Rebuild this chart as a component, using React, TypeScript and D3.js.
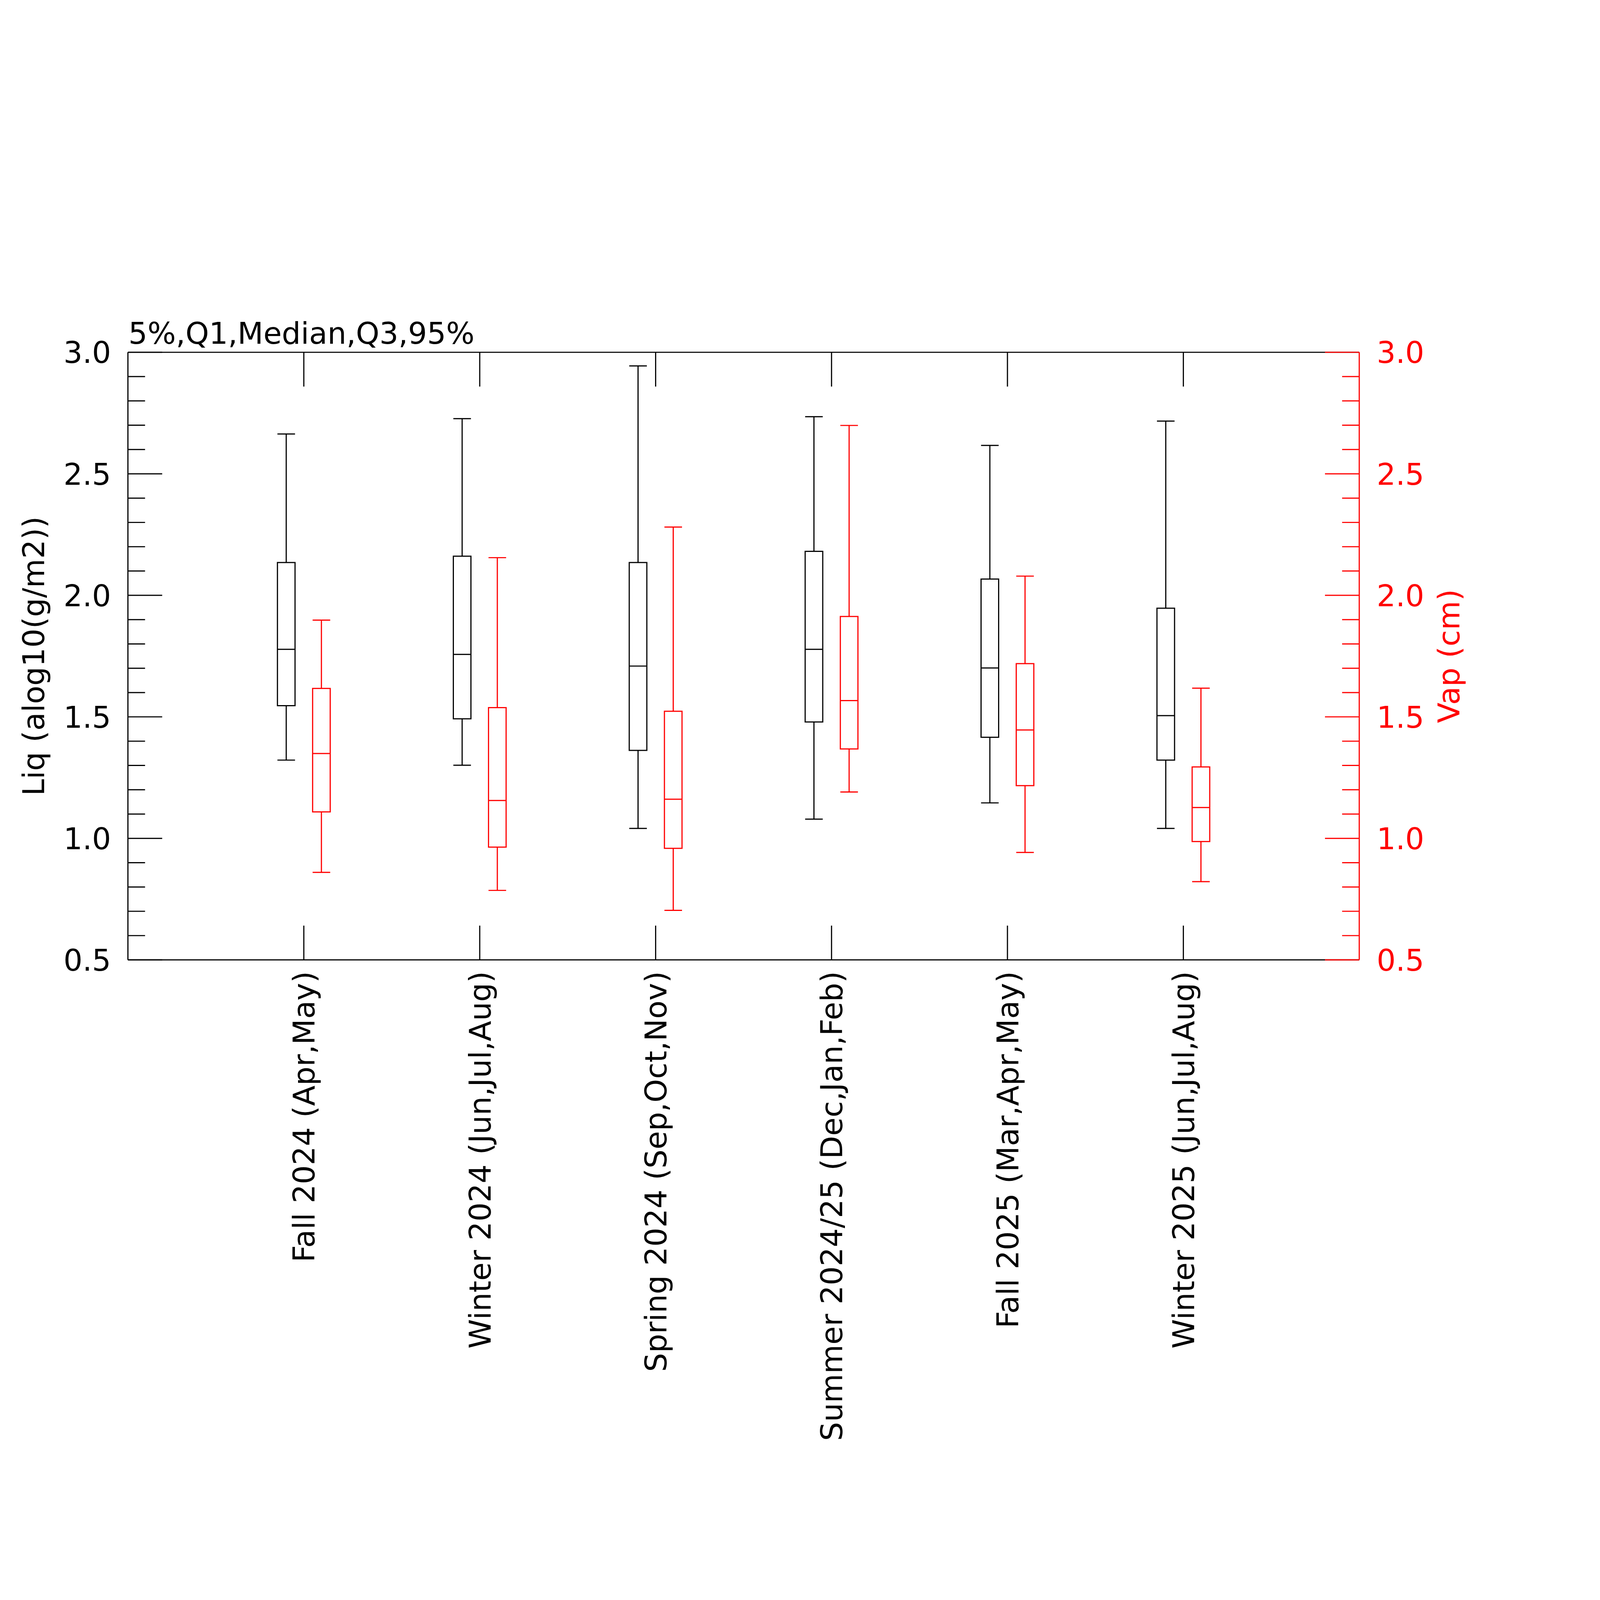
import * as d3 from "d3";

// seasons along the bottom
const categories = [
  "Fall 2024 (Apr,May)",
  "Winter 2024 (Jun,Jul,Aug)",
  "Spring 2024 (Sep,Oct,Nov)",
  "Summer 2024/25 (Dec,Jan,Feb)",
  "Fall 2025 (Mar,Apr,May)",
  "Winter 2025 (Jun,Jul,Aug)",
];

// Liq (alog10(g/m2)) - black, left axis
const liqP5 = [1.322, 1.301, 1.041, 1.079, 1.146, 1.041];
const liqQ1 = [1.546, 1.492, 1.362, 1.479, 1.416, 1.322];
const liqMed = [1.778, 1.757, 1.709, 1.778, 1.701, 1.505];
const liqQ3 = [2.135, 2.161, 2.135, 2.181, 2.067, 1.947];
const liqP95 = [2.664, 2.727, 2.944, 2.735, 2.617, 2.717];

// Vap (cm) - red, right axis
const vapP5 = [0.86, 0.786, 0.704, 1.191, 0.942, 0.822];
const vapQ1 = [1.109, 0.964, 0.959, 1.368, 1.217, 0.987];
const vapMed = [1.349, 1.156, 1.161, 1.567, 1.446, 1.127];
const vapQ3 = [1.617, 1.538, 1.523, 1.913, 1.719, 1.294];
const vapP95 = [1.898, 2.155, 2.281, 2.699, 2.079, 1.618];

const yTickLabels = ["0.5", "1.0", "1.5", "2.0", "2.5", "3.0"];
const yMinorStep = 0.1;

const W = 6254;
const H = 6254;
const FONT = "DejaVu Sans";
const FS = 117;
const SW = 4.5;
const MAJOR = 134;
const MINOR = 67;

export default function App() {
  const x = d3.scaleLinear().domain([0, 7]).range([500, 5313]);
  const yL = d3.scaleLinear().domain([0.5, 3]).range([3752, 1377]);
  const yR = d3.scaleLinear().domain([0.5, 3]).range([3752, 1377]);

  const [x0, x1] = x.range();
  const [yb, yt] = yL.range();
  const boxW = x(0.1) - x(0);

  const minorTicks = d3.range(0, 26).map((i) => +(0.5 + i * yMinorStep).toFixed(2));
  const majorVals = yTickLabels.map(Number);
  const isMajor = (v: number) => majorVals.some((m) => Math.abs(m - v) < 1e-6);

  const series = [
    { p5: liqP5, q1: liqQ1, med: liqMed, q3: liqQ3, p95: liqP95, off: -0.1, color: "#000000", y: yL },
    { p5: vapP5, q1: vapQ1, med: vapMed, q3: vapQ3, p95: vapP95, off: 0.1, color: "#ff0000", y: yR },
  ];

  return (
    <svg
      viewBox={`0 0 ${W} ${H}`}
      preserveAspectRatio="xMinYMin meet"
      style={{ position: "fixed", left: 0, top: 0, width: "100vw", height: "100vh", background: "#fff" }}
      fontFamily={FONT}
    >
      <rect width={W} height={H} fill="#fff" />

      {/* boxes */}
      {series.map((s, si) => (
        <g key={si} stroke={s.color} strokeWidth={SW} fill="none">
          {categories.map((_, i) => {
            const cx = x(i + 1 + s.off);
            const l = cx - boxW / 2;
            const r = cx + boxW / 2;
            const y = s.y;
            return (
              <g key={i}>
                <rect x={l} y={y(s.q3[i])} width={boxW} height={y(s.q1[i]) - y(s.q3[i])} />
                <line x1={l} x2={r} y1={y(s.med[i])} y2={y(s.med[i])} />
                <line x1={cx} x2={cx} y1={y(s.q3[i])} y2={y(s.p95[i])} />
                <line x1={l} x2={r} y1={y(s.p95[i])} y2={y(s.p95[i])} />
                <line x1={cx} x2={cx} y1={y(s.q1[i])} y2={y(s.p5[i])} />
                <line x1={l} x2={r} y1={y(s.p5[i])} y2={y(s.p5[i])} />
              </g>
            );
          })}
        </g>
      ))}

      {/* frame: left, top, bottom */}
      <g stroke="#000" strokeWidth={SW}>
        <line x1={x0} x2={x0} y1={yt} y2={yb} />
        <line x1={x0} x2={x1} y1={yt} y2={yt} />
        <line x1={x0} x2={x1} y1={yb} y2={yb} />
        {categories.map((_, i) => (
          <g key={i}>
            <line x1={x(i + 1)} x2={x(i + 1)} y1={yt} y2={yt + MAJOR} />
            <line x1={x(i + 1)} x2={x(i + 1)} y1={yb} y2={yb - MAJOR} />
          </g>
        ))}
        {minorTicks.map((v) => (
          <line key={v} x1={x0} x2={x0 + (isMajor(v) ? MAJOR : MINOR)} y1={yL(v)} y2={yL(v)} />
        ))}
      </g>

      {/* left tick labels */}
      <g fontSize={FS} fill="#000" textAnchor="end">
        {yTickLabels.map((t) => (
          <text key={t} x={x0 - 66} y={yL(+t)} dy="0.36em">
            {t}
          </text>
        ))}
      </g>

      {/* right axis in red */}
      <g stroke="#ff0000" strokeWidth={SW}>
        <line x1={x1} x2={x1} y1={yt} y2={yb} />
        {minorTicks.map((v) => (
          <line key={v} x1={x1} x2={x1 - (isMajor(v) ? MAJOR : MINOR)} y1={yR(v)} y2={yR(v)} />
        ))}
      </g>
      <g fontSize={FS} fill="#ff0000" textAnchor="start">
        {yTickLabels.map((t) => (
          <text key={t} x={x1 + 68} y={yR(+t)} dy="0.36em">
            {t}
          </text>
        ))}
      </g>

      {/* category labels */}
      <g fontSize={FS} fill="#000" textAnchor="end">
        {categories.map((c, i) => (
          <text key={c} transform={`translate(${x(i + 1)},${yb + 44}) rotate(-90)`} dy="0.36em">
            {c}
          </text>
        ))}
      </g>

      {/* titles */}
      <text x={x0 + 2} y={yt - 33} fontSize={FS} fill="#000">
        5%,Q1,Median,Q3,95%
      </text>
      <text
        transform={`translate(172,${(yt + yb) / 2}) rotate(-90)`}
        textAnchor="middle"
        fontSize={FS}
        fill="#000"
      >
        Liq (alog10(g/m2))
      </text>
      <text
        transform={`translate(5704,${(yt + yb) / 2}) rotate(-90)`}
        textAnchor="middle"
        fontSize={FS}
        fill="#ff0000"
      >
        Vap (cm)
      </text>
    </svg>
  );
}
